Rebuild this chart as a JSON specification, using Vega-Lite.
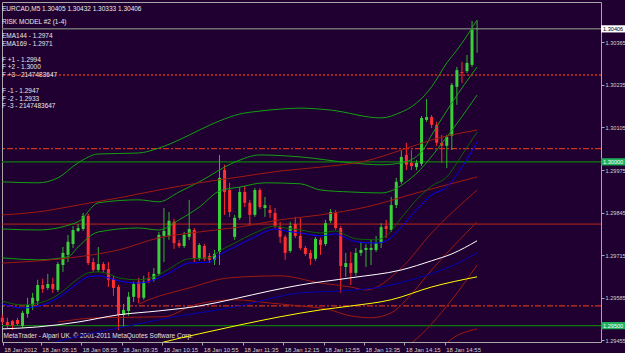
{
 "$schema": "https://vega.github.io/schema/vega-lite/v6.json",
 "width": 599, "height": 340,
 "autosize": {"type": "none"},
 "padding": {"left": 2, "top": 2, "right": 24, "bottom": 11},
 "background": "#200030",
 "config": {"view": {"stroke": "#a8a8a8", "strokeWidth": 1, "fill": "#200030"}, "font": "Liberation Sans"},
 "title": {
  "text": ["EURCAD,M5  1.30405 1.30432 1.30333 1.30406", "\u200b", "RISK MODEL #2 (1-4)"],
  "subtitle": ["EMA144 - 1.2974", "EMA169 - 1.2971", "\u200b", "F +1 - 1.2994", "F +2 - 1.3000", "F +3 - 2147483647", "\u200b", "F -1 - 1.2947", "F -2 - 1.2933", "F -3 - 2147483647"],
  "anchor": "start", "frame": "group", "orient": "top", "offset": -108,
  "font": "Liberation Sans", "fontSize": 6.5, "fontWeight": "normal", "color": "#e8e8e8", "lineHeight": 6.75,
  "subtitleFont": "Liberation Sans", "subtitleFontSize": 6.5, "subtitleColor": "#e8e8e8", "subtitleLineHeight": 7.8, "subtitlePadding": 7.5
 },
 "datasets": {
  "levels": [
   {"kind": "bid", "v": 1.30406}, {"kind": "reddot", "v": 1.30265}, {"kind": "reddashdot", "v": 1.30040},
   {"kind": "greenline", "v": 1.30000}, {"kind": "redline", "v": 1.29810}, {"kind": "reddashdot", "v": 1.29560},
   {"kind": "greenline", "v": 1.29500}
  ],
  "tags": [{"kind": "bid", "v": 1.30406}, {"kind": "level", "v": 1.30000}, {"kind": "level", "v": 1.29500}],
  "candles": [
   {"t": "2012-01-18T07:35Z", "o": 1.29524, "h": 1.29533, "l": 1.29505, "c": 1.29511},
   {"t": "2012-01-18T07:40Z", "o": 1.29511, "h": 1.29524, "l": 1.29493, "c": 1.29502},
   {"t": "2012-01-18T07:45Z", "o": 1.29514, "h": 1.29517, "l": 1.29487, "c": 1.29502},
   {"t": "2012-01-18T07:50Z", "o": 1.29517, "h": 1.29524, "l": 1.29499, "c": 1.29505},
   {"t": "2012-01-18T07:55Z", "o": 1.29499, "h": 1.29545, "l": 1.29493, "c": 1.29539},
   {"t": "2012-01-18T08:00Z", "o": 1.29536, "h": 1.29585, "l": 1.29524, "c": 1.29563},
   {"t": "2012-01-18T08:05Z", "o": 1.29563, "h": 1.29600, "l": 1.29548, "c": 1.29585},
   {"t": "2012-01-18T08:10Z", "o": 1.29575, "h": 1.29640, "l": 1.29563, "c": 1.29624},
   {"t": "2012-01-18T08:15Z", "o": 1.29624, "h": 1.29643, "l": 1.29600, "c": 1.29612},
   {"t": "2012-01-18T08:20Z", "o": 1.29615, "h": 1.29658, "l": 1.29609, "c": 1.29627},
   {"t": "2012-01-18T08:25Z", "o": 1.29627, "h": 1.29646, "l": 1.29600, "c": 1.29612},
   {"t": "2012-01-18T08:30Z", "o": 1.29609, "h": 1.29694, "l": 1.29603, "c": 1.29688},
   {"t": "2012-01-18T08:35Z", "o": 1.29685, "h": 1.29740, "l": 1.29664, "c": 1.29722},
   {"t": "2012-01-18T08:40Z", "o": 1.29716, "h": 1.29777, "l": 1.29694, "c": 1.29756},
   {"t": "2012-01-18T08:45Z", "o": 1.29749, "h": 1.29804, "l": 1.29737, "c": 1.29792},
   {"t": "2012-01-18T08:50Z", "o": 1.29789, "h": 1.29810, "l": 1.29786, "c": 1.29798},
   {"t": "2012-01-18T08:55Z", "o": 1.29795, "h": 1.29844, "l": 1.29789, "c": 1.29835},
   {"t": "2012-01-18T09:00Z", "o": 1.29835, "h": 1.29841, "l": 1.29685, "c": 1.29691},
   {"t": "2012-01-18T09:05Z", "o": 1.29694, "h": 1.29707, "l": 1.29664, "c": 1.29670},
   {"t": "2012-01-18T09:10Z", "o": 1.29670, "h": 1.29740, "l": 1.29664, "c": 1.29688},
   {"t": "2012-01-18T09:15Z", "o": 1.29688, "h": 1.29694, "l": 1.29661, "c": 1.29670},
   {"t": "2012-01-18T09:20Z", "o": 1.29673, "h": 1.29694, "l": 1.29618, "c": 1.29640},
   {"t": "2012-01-18T09:25Z", "o": 1.29643, "h": 1.29652, "l": 1.29591, "c": 1.29615},
   {"t": "2012-01-18T09:30Z", "o": 1.29618, "h": 1.29624, "l": 1.29487, "c": 1.29533},
   {"t": "2012-01-18T09:35Z", "o": 1.29533, "h": 1.29566, "l": 1.29496, "c": 1.29548},
   {"t": "2012-01-18T09:40Z", "o": 1.29545, "h": 1.29603, "l": 1.29530, "c": 1.29588},
   {"t": "2012-01-18T09:45Z", "o": 1.29588, "h": 1.29634, "l": 1.29572, "c": 1.29627},
   {"t": "2012-01-18T09:50Z", "o": 1.29634, "h": 1.29646, "l": 1.29569, "c": 1.29585},
   {"t": "2012-01-18T09:55Z", "o": 1.29585, "h": 1.29652, "l": 1.29579, "c": 1.29634},
   {"t": "2012-01-18T10:00Z", "o": 1.29646, "h": 1.29664, "l": 1.29630, "c": 1.29637},
   {"t": "2012-01-18T10:05Z", "o": 1.29640, "h": 1.29676, "l": 1.29634, "c": 1.29658},
   {"t": "2012-01-18T10:10Z", "o": 1.29658, "h": 1.29786, "l": 1.29652, "c": 1.29777},
   {"t": "2012-01-18T10:15Z", "o": 1.29774, "h": 1.29859, "l": 1.29694, "c": 1.29789},
   {"t": "2012-01-18T10:20Z", "o": 1.29774, "h": 1.29847, "l": 1.29762, "c": 1.29820},
   {"t": "2012-01-18T10:25Z", "o": 1.29817, "h": 1.29826, "l": 1.29734, "c": 1.29752},
   {"t": "2012-01-18T10:30Z", "o": 1.29752, "h": 1.29762, "l": 1.29737, "c": 1.29743},
   {"t": "2012-01-18T10:35Z", "o": 1.29743, "h": 1.29786, "l": 1.29737, "c": 1.29777},
   {"t": "2012-01-18T10:40Z", "o": 1.29771, "h": 1.29884, "l": 1.29762, "c": 1.29795},
   {"t": "2012-01-18T10:45Z", "o": 1.29792, "h": 1.29798, "l": 1.29694, "c": 1.29704},
   {"t": "2012-01-18T10:50Z", "o": 1.29704, "h": 1.29752, "l": 1.29698, "c": 1.29746},
   {"t": "2012-01-18T10:55Z", "o": 1.29743, "h": 1.29749, "l": 1.29698, "c": 1.29704},
   {"t": "2012-01-18T11:00Z", "o": 1.29713, "h": 1.29722, "l": 1.29691, "c": 1.29701},
   {"t": "2012-01-18T11:05Z", "o": 1.29701, "h": 1.29731, "l": 1.29685, "c": 1.29719},
   {"t": "2012-01-18T11:10Z", "o": 1.29725, "h": 1.30021, "l": 1.29685, "c": 1.29951},
   {"t": "2012-01-18T11:15Z", "o": 1.29975, "h": 1.29991, "l": 1.29838, "c": 1.29908},
   {"t": "2012-01-18T11:20Z", "o": 1.29914, "h": 1.29936, "l": 1.29832, "c": 1.29847},
   {"t": "2012-01-18T11:25Z", "o": 1.29771, "h": 1.29838, "l": 1.29762, "c": 1.29829},
   {"t": "2012-01-18T11:30Z", "o": 1.29829, "h": 1.29923, "l": 1.29823, "c": 1.29908},
   {"t": "2012-01-18T11:35Z", "o": 1.29908, "h": 1.29926, "l": 1.29862, "c": 1.29875},
   {"t": "2012-01-18T11:40Z", "o": 1.29875, "h": 1.29884, "l": 1.29807, "c": 1.29838},
   {"t": "2012-01-18T11:45Z", "o": 1.29838, "h": 1.29920, "l": 1.29832, "c": 1.29914},
   {"t": "2012-01-18T11:50Z", "o": 1.29914, "h": 1.29920, "l": 1.29856, "c": 1.29862},
   {"t": "2012-01-18T11:55Z", "o": 1.29859, "h": 1.29893, "l": 1.29832, "c": 1.29868},
   {"t": "2012-01-18T12:00Z", "o": 1.29853, "h": 1.29868, "l": 1.29829, "c": 1.29844},
   {"t": "2012-01-18T12:05Z", "o": 1.29844, "h": 1.29859, "l": 1.29798, "c": 1.29804},
   {"t": "2012-01-18T12:10Z", "o": 1.29801, "h": 1.29817, "l": 1.29752, "c": 1.29771},
   {"t": "2012-01-18T12:15Z", "o": 1.29771, "h": 1.29777, "l": 1.29701, "c": 1.29722},
   {"t": "2012-01-18T12:20Z", "o": 1.29728, "h": 1.29817, "l": 1.29722, "c": 1.29804},
   {"t": "2012-01-18T12:25Z", "o": 1.29810, "h": 1.29832, "l": 1.29768, "c": 1.29774},
   {"t": "2012-01-18T12:30Z", "o": 1.29774, "h": 1.29829, "l": 1.29731, "c": 1.29737},
   {"t": "2012-01-18T12:35Z", "o": 1.29737, "h": 1.29743, "l": 1.29713, "c": 1.29719},
   {"t": "2012-01-18T12:40Z", "o": 1.29722, "h": 1.29731, "l": 1.29685, "c": 1.29704},
   {"t": "2012-01-18T12:45Z", "o": 1.29704, "h": 1.29771, "l": 1.29698, "c": 1.29765},
   {"t": "2012-01-18T12:50Z", "o": 1.29762, "h": 1.29768, "l": 1.29716, "c": 1.29746},
   {"t": "2012-01-18T12:55Z", "o": 1.29749, "h": 1.29823, "l": 1.29743, "c": 1.29813},
   {"t": "2012-01-18T13:00Z", "o": 1.29820, "h": 1.29856, "l": 1.29813, "c": 1.29847},
   {"t": "2012-01-18T13:05Z", "o": 1.29844, "h": 1.29853, "l": 1.29792, "c": 1.29798},
   {"t": "2012-01-18T13:10Z", "o": 1.29798, "h": 1.29804, "l": 1.29600, "c": 1.29682},
   {"t": "2012-01-18T13:15Z", "o": 1.29679, "h": 1.29722, "l": 1.29649, "c": 1.29691},
   {"t": "2012-01-18T13:20Z", "o": 1.29691, "h": 1.29725, "l": 1.29624, "c": 1.29661},
   {"t": "2012-01-18T13:25Z", "o": 1.29661, "h": 1.29737, "l": 1.29652, "c": 1.29722},
   {"t": "2012-01-18T13:30Z", "o": 1.29722, "h": 1.29756, "l": 1.29713, "c": 1.29731},
   {"t": "2012-01-18T13:35Z", "o": 1.29731, "h": 1.29749, "l": 1.29679, "c": 1.29737},
   {"t": "2012-01-18T13:40Z", "o": 1.29731, "h": 1.29762, "l": 1.29685, "c": 1.29737},
   {"t": "2012-01-18T13:45Z", "o": 1.29731, "h": 1.29774, "l": 1.29725, "c": 1.29752},
   {"t": "2012-01-18T13:50Z", "o": 1.29752, "h": 1.29813, "l": 1.29737, "c": 1.29801},
   {"t": "2012-01-18T13:55Z", "o": 1.29804, "h": 1.29823, "l": 1.29768, "c": 1.29795},
   {"t": "2012-01-18T14:00Z", "o": 1.29792, "h": 1.29893, "l": 1.29786, "c": 1.29868},
   {"t": "2012-01-18T14:05Z", "o": 1.29868, "h": 1.29951, "l": 1.29859, "c": 1.29939},
   {"t": "2012-01-18T14:10Z", "o": 1.29939, "h": 1.30036, "l": 1.29933, "c": 1.30015},
   {"t": "2012-01-18T14:15Z", "o": 1.30021, "h": 1.30058, "l": 1.29975, "c": 1.29991},
   {"t": "2012-01-18T14:20Z", "o": 1.29997, "h": 1.30036, "l": 1.29975, "c": 1.29987},
   {"t": "2012-01-18T14:25Z", "o": 1.29984, "h": 1.30006, "l": 1.29975, "c": 1.29997},
   {"t": "2012-01-18T14:30Z", "o": 1.29994, "h": 1.30140, "l": 1.29987, "c": 1.30134},
   {"t": "2012-01-18T14:35Z", "o": 1.30128, "h": 1.30192, "l": 1.30122, "c": 1.30137},
   {"t": "2012-01-18T14:40Z", "o": 1.30137, "h": 1.30143, "l": 1.30103, "c": 1.30113},
   {"t": "2012-01-18T14:45Z", "o": 1.30113, "h": 1.30122, "l": 1.30049, "c": 1.30058},
   {"t": "2012-01-18T14:50Z", "o": 1.30058, "h": 1.30082, "l": 1.29997, "c": 1.30049},
   {"t": "2012-01-18T14:55Z", "o": 1.30049, "h": 1.30082, "l": 1.29981, "c": 1.30076},
   {"t": "2012-01-18T15:00Z", "o": 1.30079, "h": 1.30241, "l": 1.30036, "c": 1.30235},
   {"t": "2012-01-18T15:05Z", "o": 1.30229, "h": 1.30290, "l": 1.30174, "c": 1.30280},
   {"t": "2012-01-18T15:10Z", "o": 1.30274, "h": 1.30305, "l": 1.30241, "c": 1.30271},
   {"t": "2012-01-18T15:15Z", "o": 1.30277, "h": 1.30326, "l": 1.30271, "c": 1.30302},
   {"t": "2012-01-18T15:20Z", "o": 1.30296, "h": 1.30430, "l": 1.30290, "c": 1.30403},
   {"t": "2012-01-18T15:25Z", "o": 1.30405, "h": 1.30432, "l": 1.30333, "c": 1.30406}
  ],
  "lines": [
   {"s": "g1", "t": "2012-01-18T07:35Z", "v": 1.29939}, {"s": "g1", "t": "2012-01-18T08:10Z", "v": 1.29936}, {"s": "g1", "t": "2012-01-18T08:30Z", "v": 1.29951}, {"s": "g1", "t": "2012-01-18T08:50Z", "v": 1.29997}, {"s": "g1", "t": "2012-01-18T09:10Z", "v": 1.30024}, {"s": "g1", "t": "2012-01-18T09:50Z", "v": 1.30027}, {"s": "g1", "t": "2012-01-18T10:10Z", "v": 1.30042}, {"s": "g1", "t": "2012-01-18T10:30Z", "v": 1.30067}, {"s": "g1", "t": "2012-01-18T10:50Z", "v": 1.30097}, {"s": "g1", "t": "2012-01-18T11:10Z", "v": 1.30125}, {"s": "g1", "t": "2012-01-18T11:30Z", "v": 1.30146}, {"s": "g1", "t": "2012-01-18T11:50Z", "v": 1.30155}, {"s": "g1", "t": "2012-01-18T12:10Z", "v": 1.30161}, {"s": "g1", "t": "2012-01-18T12:30Z", "v": 1.30164}, {"s": "g1", "t": "2012-01-18T13:00Z", "v": 1.30158}, {"s": "g1", "t": "2012-01-18T13:50Z", "v": 1.30134}, {"s": "g1", "t": "2012-01-18T14:10Z", "v": 1.30152}, {"s": "g1", "t": "2012-01-18T14:20Z", "v": 1.30168}, {"s": "g1", "t": "2012-01-18T14:40Z", "v": 1.30229}, {"s": "g1", "t": "2012-01-18T14:55Z", "v": 1.30302}, {"s": "g1", "t": "2012-01-18T15:05Z", "v": 1.30341}, {"s": "g1", "t": "2012-01-18T15:25Z", "v": 1.30433},
   {"s": "g2", "t": "2012-01-18T07:35Z", "v": 1.29795}, {"s": "g2", "t": "2012-01-18T08:10Z", "v": 1.29792}, {"s": "g2", "t": "2012-01-18T08:50Z", "v": 1.29817}, {"s": "g2", "t": "2012-01-18T09:10Z", "v": 1.29875}, {"s": "g2", "t": "2012-01-18T09:50Z", "v": 1.29884}, {"s": "g2", "t": "2012-01-18T10:10Z", "v": 1.29878}, {"s": "g2", "t": "2012-01-18T10:30Z", "v": 1.29908}, {"s": "g2", "t": "2012-01-18T10:50Z", "v": 1.29939}, {"s": "g2", "t": "2012-01-18T11:25Z", "v": 1.29999}, {"s": "g2", "t": "2012-01-18T11:50Z", "v": 1.30021}, {"s": "g2", "t": "2012-01-18T12:30Z", "v": 1.30015}, {"s": "g2", "t": "2012-01-18T13:20Z", "v": 1.29997}, {"s": "g2", "t": "2012-01-18T13:50Z", "v": 1.29991}, {"s": "g2", "t": "2012-01-18T14:10Z", "v": 1.29997}, {"s": "g2", "t": "2012-01-18T14:30Z", "v": 1.30030}, {"s": "g2", "t": "2012-01-18T14:40Z", "v": 1.30082}, {"s": "g2", "t": "2012-01-18T15:00Z", "v": 1.30180}, {"s": "g2", "t": "2012-01-18T15:25Z", "v": 1.30290},
   {"s": "g3", "t": "2012-01-18T07:35Z", "v": 1.29707}, {"s": "g3", "t": "2012-01-18T08:10Z", "v": 1.29701}, {"s": "g3", "t": "2012-01-18T08:40Z", "v": 1.29710}, {"s": "g3", "t": "2012-01-18T08:50Z", "v": 1.29740}, {"s": "g3", "t": "2012-01-18T09:10Z", "v": 1.29786}, {"s": "g3", "t": "2012-01-18T09:50Z", "v": 1.29798}, {"s": "g3", "t": "2012-01-18T10:10Z", "v": 1.29792}, {"s": "g3", "t": "2012-01-18T10:30Z", "v": 1.29823}, {"s": "g3", "t": "2012-01-18T10:50Z", "v": 1.29862}, {"s": "g3", "t": "2012-01-18T11:10Z", "v": 1.29911}, {"s": "g3", "t": "2012-01-18T11:30Z", "v": 1.29923}, {"s": "g3", "t": "2012-01-18T11:55Z", "v": 1.29936}, {"s": "g3", "t": "2012-01-18T12:30Z", "v": 1.29933}, {"s": "g3", "t": "2012-01-18T12:50Z", "v": 1.29914}, {"s": "g3", "t": "2012-01-18T13:20Z", "v": 1.29908}, {"s": "g3", "t": "2012-01-18T13:50Z", "v": 1.29905}, {"s": "g3", "t": "2012-01-18T14:20Z", "v": 1.29951}, {"s": "g3", "t": "2012-01-18T14:55Z", "v": 1.30076}, {"s": "g3", "t": "2012-01-18T15:25Z", "v": 1.30204},
   {"s": "r1", "t": "2012-01-18T07:35Z", "v": 1.29838}, {"s": "r1", "t": "2012-01-18T08:10Z", "v": 1.29847}, {"s": "r1", "t": "2012-01-18T08:50Z", "v": 1.29868}, {"s": "r1", "t": "2012-01-18T09:30Z", "v": 1.29890}, {"s": "r1", "t": "2012-01-18T10:10Z", "v": 1.29914}, {"s": "r1", "t": "2012-01-18T10:50Z", "v": 1.29936}, {"s": "r1", "t": "2012-01-18T11:30Z", "v": 1.29954}, {"s": "r1", "t": "2012-01-18T12:10Z", "v": 1.29972}, {"s": "r1", "t": "2012-01-18T12:50Z", "v": 1.29984}, {"s": "r1", "t": "2012-01-18T13:35Z", "v": 1.30003}, {"s": "r1", "t": "2012-01-18T14:10Z", "v": 1.30036}, {"s": "r1", "t": "2012-01-18T14:40Z", "v": 1.30067}, {"s": "r1", "t": "2012-01-18T15:25Z", "v": 1.30097},
   {"s": "r2", "t": "2012-01-18T07:35Z", "v": 1.29691}, {"s": "r2", "t": "2012-01-18T08:50Z", "v": 1.29710}, {"s": "r2", "t": "2012-01-18T09:30Z", "v": 1.29731}, {"s": "r2", "t": "2012-01-18T10:10Z", "v": 1.29768}, {"s": "r2", "t": "2012-01-18T10:50Z", "v": 1.29786}, {"s": "r2", "t": "2012-01-18T11:30Z", "v": 1.29801}, {"s": "r2", "t": "2012-01-18T12:10Z", "v": 1.29823}, {"s": "r2", "t": "2012-01-18T12:50Z", "v": 1.29838}, {"s": "r2", "t": "2012-01-18T13:35Z", "v": 1.29862}, {"s": "r2", "t": "2012-01-18T14:25Z", "v": 1.29905}, {"s": "r2", "t": "2012-01-18T15:25Z", "v": 1.29954},
   {"s": "r3", "t": "2012-01-18T09:50Z", "v": 1.29566}, {"s": "r3", "t": "2012-01-18T10:00Z", "v": 1.29579}, {"s": "r3", "t": "2012-01-18T10:40Z", "v": 1.29615}, {"s": "r3", "t": "2012-01-18T11:20Z", "v": 1.29646}, {"s": "r3", "t": "2012-01-18T12:10Z", "v": 1.29652}, {"s": "r3", "t": "2012-01-18T12:50Z", "v": 1.29630}, {"s": "r3", "t": "2012-01-18T13:20Z", "v": 1.29618}, {"s": "r3", "t": "2012-01-18T13:35Z", "v": 1.29609}, {"s": "r3", "t": "2012-01-18T14:10Z", "v": 1.29676}, {"s": "r3", "t": "2012-01-18T14:40Z", "v": 1.29783}, {"s": "r3", "t": "2012-01-18T15:25Z", "v": 1.29914},
   {"s": "r4", "t": "2012-01-18T08:30Z", "v": 1.29511}, {"s": "r4", "t": "2012-01-18T09:10Z", "v": 1.29524}, {"s": "r4", "t": "2012-01-18T10:15Z", "v": 1.29527}, {"s": "r4", "t": "2012-01-18T10:45Z", "v": 1.29563}, {"s": "r4", "t": "2012-01-18T11:25Z", "v": 1.29579}, {"s": "r4", "t": "2012-01-18T12:00Z", "v": 1.29569}, {"s": "r4", "t": "2012-01-18T12:30Z", "v": 1.29560}, {"s": "r4", "t": "2012-01-18T13:00Z", "v": 1.29548}, {"s": "r4", "t": "2012-01-18T13:15Z", "v": 1.29533}, {"s": "r4", "t": "2012-01-18T13:40Z", "v": 1.29524}, {"s": "r4", "t": "2012-01-18T14:00Z", "v": 1.29539}, {"s": "r4", "t": "2012-01-18T14:15Z", "v": 1.29579}, {"s": "r4", "t": "2012-01-18T14:40Z", "v": 1.29670}, {"s": "r4", "t": "2012-01-18T15:25Z", "v": 1.29817},
   {"s": "r5", "t": "2012-01-18T14:10Z", "v": 1.29426}, {"s": "r5", "t": "2012-01-18T14:20Z", "v": 1.29447}, {"s": "r5", "t": "2012-01-18T15:00Z", "v": 1.29579}, {"s": "r5", "t": "2012-01-18T15:25Z", "v": 1.29685},
   {"s": "r6", "t": "2012-01-18T14:50Z", "v": 1.29426}, {"s": "r6", "t": "2012-01-18T14:55Z", "v": 1.29447}, {"s": "r6", "t": "2012-01-18T15:25Z", "v": 1.29490},
   {"s": "darkblue", "t": "2012-01-18T08:00Z", "v": 1.29426}, {"s": "darkblue", "t": "2012-01-18T08:35Z", "v": 1.29456}, {"s": "darkblue", "t": "2012-01-18T09:10Z", "v": 1.29481}, {"s": "darkblue", "t": "2012-01-18T09:40Z", "v": 1.29499}, {"s": "darkblue", "t": "2012-01-18T10:20Z", "v": 1.29524}, {"s": "darkblue", "t": "2012-01-18T10:50Z", "v": 1.29539}, {"s": "darkblue", "t": "2012-01-18T11:25Z", "v": 1.29557}, {"s": "darkblue", "t": "2012-01-18T12:30Z", "v": 1.29600}, {"s": "darkblue", "t": "2012-01-18T13:10Z", "v": 1.29606}, {"s": "darkblue", "t": "2012-01-18T13:50Z", "v": 1.29618}, {"s": "darkblue", "t": "2012-01-18T14:30Z", "v": 1.29649}, {"s": "darkblue", "t": "2012-01-18T15:00Z", "v": 1.29682}, {"s": "darkblue", "t": "2012-01-18T15:25Z", "v": 1.29722},
   {"s": "yellow", "t": "2012-01-18T09:15Z", "v": 1.29395}, {"s": "yellow", "t": "2012-01-18T10:15Z", "v": 1.29450}, {"s": "yellow", "t": "2012-01-18T10:50Z", "v": 1.29475}, {"s": "yellow", "t": "2012-01-18T11:30Z", "v": 1.29502}, {"s": "yellow", "t": "2012-01-18T12:10Z", "v": 1.29527}, {"s": "yellow", "t": "2012-01-18T12:50Z", "v": 1.29548}, {"s": "yellow", "t": "2012-01-18T13:20Z", "v": 1.29560}, {"s": "yellow", "t": "2012-01-18T14:00Z", "v": 1.29579}, {"s": "yellow", "t": "2012-01-18T14:40Z", "v": 1.29618}, {"s": "yellow", "t": "2012-01-18T15:25Z", "v": 1.29649},
   {"s": "white", "t": "2012-01-18T07:35Z", "v": 1.29490}, {"s": "white", "t": "2012-01-18T08:10Z", "v": 1.29496}, {"s": "white", "t": "2012-01-18T08:50Z", "v": 1.29511}, {"s": "white", "t": "2012-01-18T09:30Z", "v": 1.29533}, {"s": "white", "t": "2012-01-18T10:10Z", "v": 1.29545}, {"s": "white", "t": "2012-01-18T10:50Z", "v": 1.29560}, {"s": "white", "t": "2012-01-18T11:25Z", "v": 1.29582}, {"s": "white", "t": "2012-01-18T12:00Z", "v": 1.29606}, {"s": "white", "t": "2012-01-18T12:30Z", "v": 1.29624}, {"s": "white", "t": "2012-01-18T13:20Z", "v": 1.29646}, {"s": "white", "t": "2012-01-18T14:10Z", "v": 1.29670}, {"s": "white", "t": "2012-01-18T14:40Z", "v": 1.29698}, {"s": "white", "t": "2012-01-18T15:00Z", "v": 1.29719}, {"s": "white", "t": "2012-01-18T15:25Z", "v": 1.29759},
   {"s": "ema2", "t": "2012-01-18T07:35Z", "v": 1.29575}, {"s": "ema2", "t": "2012-01-18T07:55Z", "v": 1.29563}, {"s": "ema2", "t": "2012-01-18T08:15Z", "v": 1.29572}, {"s": "ema2", "t": "2012-01-18T08:30Z", "v": 1.29594}, {"s": "ema2", "t": "2012-01-18T08:50Z", "v": 1.29643}, {"s": "ema2", "t": "2012-01-18T09:00Z", "v": 1.29661}, {"s": "ema2", "t": "2012-01-18T09:10Z", "v": 1.29664}, {"s": "ema2", "t": "2012-01-18T09:20Z", "v": 1.29658}, {"s": "ema2", "t": "2012-01-18T09:30Z", "v": 1.29646}, {"s": "ema2", "t": "2012-01-18T09:50Z", "v": 1.29640}, {"s": "ema2", "t": "2012-01-18T10:10Z", "v": 1.29655}, {"s": "ema2", "t": "2012-01-18T10:20Z", "v": 1.29673}, {"s": "ema2", "t": "2012-01-18T10:40Z", "v": 1.29704}, {"s": "ema2", "t": "2012-01-18T11:00Z", "v": 1.29707}, {"s": "ema2", "t": "2012-01-18T11:10Z", "v": 1.29728}, {"s": "ema2", "t": "2012-01-18T11:25Z", "v": 1.29752}, {"s": "ema2", "t": "2012-01-18T11:45Z", "v": 1.29783}, {"s": "ema2", "t": "2012-01-18T12:05Z", "v": 1.29804}, {"s": "ema2", "t": "2012-01-18T12:15Z", "v": 1.29798}, {"s": "ema2", "t": "2012-01-18T12:30Z", "v": 1.29792}, {"s": "ema2", "t": "2012-01-18T12:50Z", "v": 1.29783}, {"s": "ema2", "t": "2012-01-18T13:05Z", "v": 1.29789}, {"s": "ema2", "t": "2012-01-18T13:15Z", "v": 1.29777}, {"s": "ema2", "t": "2012-01-18T13:25Z", "v": 1.29765}, {"s": "ema2", "t": "2012-01-18T13:45Z", "v": 1.29762}, {"s": "ema2", "t": "2012-01-18T13:55Z", "v": 1.29774}, {"s": "ema2", "t": "2012-01-18T14:10Z", "v": 1.29829}, {"s": "ema2", "t": "2012-01-18T14:25Z", "v": 1.29884}, {"s": "ema2", "t": "2012-01-18T14:40Z", "v": 1.29926}, {"s": "ema2", "t": "2012-01-18T14:55Z", "v": 1.29954}, {"s": "ema2", "t": "2012-01-18T15:10Z", "v": 1.30021}, {"s": "ema2", "t": "2012-01-18T15:25Z", "v": 1.30091},
   {"s": "blue", "t": "2012-01-18T07:35Z", "v": 1.29566}, {"s": "blue", "t": "2012-01-18T07:55Z", "v": 1.29554}, {"s": "blue", "t": "2012-01-18T08:15Z", "v": 1.29563}, {"s": "blue", "t": "2012-01-18T08:30Z", "v": 1.29585}, {"s": "blue", "t": "2012-01-18T08:50Z", "v": 1.29630}, {"s": "blue", "t": "2012-01-18T09:00Z", "v": 1.29649}, {"s": "blue", "t": "2012-01-18T09:10Z", "v": 1.29652}, {"s": "blue", "t": "2012-01-18T09:20Z", "v": 1.29646}, {"s": "blue", "t": "2012-01-18T09:30Z", "v": 1.29637}, {"s": "blue", "t": "2012-01-18T09:50Z", "v": 1.29630}, {"s": "blue", "t": "2012-01-18T10:10Z", "v": 1.29646}, {"s": "blue", "t": "2012-01-18T10:20Z", "v": 1.29661}, {"s": "blue", "t": "2012-01-18T10:40Z", "v": 1.29691}, {"s": "blue", "t": "2012-01-18T11:00Z", "v": 1.29694}, {"s": "blue", "t": "2012-01-18T11:10Z", "v": 1.29716}, {"s": "blue", "t": "2012-01-18T11:25Z", "v": 1.29740}, {"s": "blue", "t": "2012-01-18T11:45Z", "v": 1.29771}, {"s": "blue", "t": "2012-01-18T12:05Z", "v": 1.29795}, {"s": "blue", "t": "2012-01-18T12:15Z", "v": 1.29789}, {"s": "blue", "t": "2012-01-18T12:30Z", "v": 1.29783}, {"s": "blue", "t": "2012-01-18T12:50Z", "v": 1.29774}, {"s": "blue", "t": "2012-01-18T13:05Z", "v": 1.29780}, {"s": "blue", "t": "2012-01-18T13:15Z", "v": 1.29768}, {"s": "blue", "t": "2012-01-18T13:25Z", "v": 1.29756}, {"s": "blue", "t": "2012-01-18T13:45Z", "v": 1.29752}, {"s": "blue", "t": "2012-01-18T13:55Z", "v": 1.29759}, {"s": "blue", "t": "2012-01-18T14:10Z", "v": 1.29801}, {"s": "blue", "t": "2012-01-18T14:25Z", "v": 1.29853}, {"s": "blue", "t": "2012-01-18T14:40Z", "v": 1.29899}, {"s": "blue", "t": "2012-01-18T14:55Z", "v": 1.29923}, {"s": "blue", "t": "2012-01-18T15:10Z", "v": 1.29984}, {"s": "blue", "t": "2012-01-18T15:25Z", "v": 1.30061}
  ]
 },
 "resolve": {"scale": {"color": "independent", "strokeDash": "independent", "strokeWidth": "independent"}},
 "layer": [
  {
   "data": {"name": "levels"},
   "mark": {"type": "rule", "clip": true},
   "encoding": {
    "y": {"field": "v", "type": "quantitative", "scale": {"domain": [1.29450, 1.30488], "zero": false, "nice": false, "padding": 0}},
    "color": {"field": "kind", "type": "nominal", "legend": null, "scale": {"domain": ["bid", "reddot", "reddashdot", "greenline", "redline"], "range": ["#6e6e6e", "#d0301e", "#d0301e", "#0c7a0c", "#b8281a"]}},
    "strokeDash": {"field": "kind", "type": "nominal", "legend": null, "scale": {"domain": ["bid", "reddot", "reddashdot", "greenline", "redline"], "range": [[1, 0], [2, 2], [6, 2, 2, 2], [1, 0], [1, 0]]}},
    "strokeWidth": {"field": "kind", "type": "nominal", "legend": null, "scale": {"domain": ["bid", "reddot", "reddashdot", "greenline", "redline"], "range": [1.5, 1, 1, 1.5, 2]}}
   }
  },
  {
   "data": {"name": "candles"},
   "mark": {"type": "rule", "strokeWidth": 1},
   "encoding": {
    "x": {"field": "t", "type": "temporal",
     "scale": {"type": "utc", "domain": [1326872080000, 1326907660000], "padding": 0, "nice": false},
     "axis": {
      "values": [1326872120000, 1326874380000, 1326876780000, 1326879180000, 1326881580000, 1326883980000, 1326886380000, 1326888780000, 1326891180000, 1326893580000, 1326895980000, 1326898380000],
      "labelExpr": "time(datum.value) < 1326873000000 ? '18 Jan 2012' : '18 Jan ' + utcFormat(time(datum.value) + 120000, '%H:%M')",
      "domain": false, "grid": false, "tickSize": 3, "tickColor": "#a8a8a8",
      "labelColor": "#d0d0d0", "labelFont": "Liberation Sans", "labelFontSize": 6, "labelAlign": "left", "labelBaseline": "top", "labelPadding": 1, "labelOffset": 1, "labelOverlap": false, "labelFlush": false,
      "title": "MetaTrader - Alpari UK, © 2001-2011 MetaQuotes Software Corp.",
      "titleAnchor": "start", "titleAlign": "left", "titleBaseline": "alphabetic", "titleX": 1, "titleY": -5,
      "titleColor": "#e0e0e0", "titleFont": "Liberation Sans", "titleFontSize": 6.5, "titleFontWeight": "normal"
     }},
    "y": {"field": "l", "type": "quantitative", "scale": {"domain": [1.29450, 1.30488], "zero": false, "nice": false, "padding": 0},
     "axis": {
      "orient": "right", "title": null, "domain": false, "grid": false, "tickSize": 3, "tickColor": "#a8a8a8",
      "values": [1.29455, 1.29520, 1.29585, 1.29650, 1.29715, 1.29780, 1.29845, 1.29910, 1.29975, 1.30040, 1.30105, 1.30170, 1.30235, 1.30300, 1.30365, 1.30430],
      "format": ".5f", "labelColor": "#d0d0d0", "labelFont": "Liberation Sans", "labelFontSize": 5.6, "labelPadding": 1, "labelOverlap": false, "labelFlush": false
     }},
    "y2": {"field": "h"},
    "color": {"condition": {"test": "datum.c >= datum.o", "value": "#2fb52f"}, "value": "#ff2b2b"}
   }
  },
  {
   "data": {"name": "candles"},
   "mark": {"type": "bar", "width": 3},
   "encoding": {
    "x": {"field": "t", "type": "temporal", "scale": {"type": "utc", "domain": [1326872080000, 1326907660000], "padding": 0, "nice": false}},
    "y": {"field": "o", "type": "quantitative", "scale": {"domain": [1.29450, 1.30488], "zero": false, "nice": false, "padding": 0}},
    "y2": {"field": "c"},
    "color": {"condition": {"test": "datum.c >= datum.o", "value": "#3ad03a"}, "value": "#ff3030"}
   }
  },
  {
   "data": {"name": "lines"},
   "mark": {"type": "line", "interpolate": "monotone", "clip": true},
   "encoding": {
    "x": {"field": "t", "type": "temporal", "scale": {"type": "utc", "domain": [1326872080000, 1326907660000], "padding": 0, "nice": false}},
    "y": {"field": "v", "type": "quantitative", "scale": {"domain": [1.29450, 1.30488], "zero": false, "nice": false, "padding": 0}},
    "color": {"field": "s", "type": "nominal", "legend": null, "scale": {"domain": ["g1", "g2", "g3", "r1", "r2", "r3", "r4", "r5", "r6", "darkblue", "yellow", "white", "ema2", "blue"], "range": ["#12a012", "#12a012", "#12a012", "#9e1a10", "#9e1a10", "#9e1a10", "#9e1a10", "#9e1a10", "#9e1a10", "#0000b4", "#ffff00", "#ffffff", "#0a640a", "#0000ff"]}},
    "strokeWidth": {"field": "s", "type": "nominal", "legend": null, "scale": {"domain": ["g1", "g2", "g3", "r1", "r2", "r3", "r4", "r5", "r6", "darkblue", "yellow", "white", "ema2", "blue"], "range": [1, 1, 1, 1, 1, 1, 1, 1, 1, 1, 2, 3, 3, 3]}}
   }
  },
  {
   "data": {"name": "tags"},
   "mark": {"type": "point", "shape": "M0,-0.3L2.5,-0.3L2.5,0.3L0,0.3Z", "size": 576, "filled": true, "opacity": 1, "strokeWidth": 0},
   "encoding": {
    "x": {"datum": {"year": 2012, "month": "jan", "date": 18, "hours": 17, "minutes": 27, "seconds": 40, "utc": true}, "type": "temporal", "scale": {"type": "utc", "domain": [1326872080000, 1326907660000], "padding": 0, "nice": false}},
    "y": {"field": "v", "type": "quantitative", "scale": {"domain": [1.29450, 1.30488], "zero": false, "nice": false, "padding": 0}},
    "color": {"condition": {"test": "datum.kind == 'bid'", "value": "#ffffff"}, "value": "#1fae5a"}
   }
  },
  {
   "data": {"name": "tags"},
   "mark": {"type": "text", "align": "left", "baseline": "middle", "dx": 2, "fontSize": 5.6, "font": "Liberation Sans"},
   "encoding": {
    "x": {"datum": {"year": 2012, "month": "jan", "date": 18, "hours": 17, "minutes": 27, "seconds": 40, "utc": true}, "type": "temporal", "scale": {"type": "utc", "domain": [1326872080000, 1326907660000], "padding": 0, "nice": false}},
    "y": {"field": "v", "type": "quantitative", "scale": {"domain": [1.29450, 1.30488], "zero": false, "nice": false, "padding": 0}},
    "text": {"field": "v", "type": "quantitative", "format": ".5f"},
    "color": {"condition": {"test": "datum.kind == 'bid'", "value": "#000000"}, "value": "#ffffff"}
   }
  }
 ]
}
